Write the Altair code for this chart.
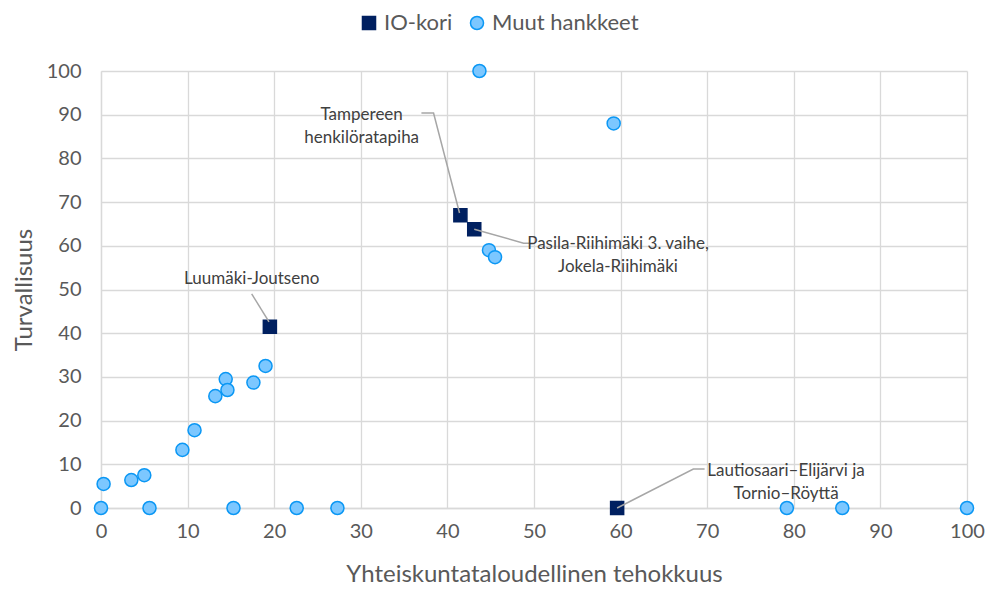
import altair as alt
import pandas as pd

FONT = "Lato"

series_names = ["IO-kori", "Muut hankkeet"]

io_x = [19.5, 41.5, 43.1, 59.6]
io_y = [41.5, 67.0, 63.8, 0.0]

muut_x = [0.0, 0.3, 3.5, 5.0, 5.6, 9.4, 10.8, 13.2, 14.4, 14.6, 15.3, 17.6, 19.0,
          22.6, 27.3, 43.7, 44.8, 45.5, 59.2, 79.2, 85.6, 100.0]
muut_y = [0.0, 5.5, 6.4, 7.5, 0.0, 13.3, 17.8, 25.6, 29.5, 27.0, 0.0, 28.7, 32.5,
          0.0, 0.0, 100.0, 59.0, 57.4, 88.0, 0.0, 0.0, 0.0]

label_texts = ["Tampereen\nhenkilöratapiha", "Pasila-Riihimäki 3. vaihe,\nJokela-Riihimäki",
               "Luumäki-Joutseno", "Lautiosaari–Elijärvi ja\nTornio–Röyttä"]
label_x = [30.1, 59.7, 17.4, 79.1]
label_y = [90.0, 60.4, 52.4, 8.5]

leader_label = ["T", "T", "T", "P", "P", "P", "L", "L", "A", "A", "A"]
leader_order = [0, 1, 2, 0, 1, 2, 0, 1, 0, 1, 2]
leader_x = [37.0, 38.4, 41.4, 43.1, 48.8, 49.9, 17.4, 19.4, 59.6, 68.4, 69.7]
leader_y = [90.4, 90.4, 67.5, 63.8, 60.6, 60.6, 49.0, 42.6, 0.0, 8.9, 8.9]

points = pd.DataFrame({
    "x": muut_x + io_x,
    "y": muut_y + io_y,
    "series": [series_names[1]] * len(muut_x) + [series_names[0]] * len(io_x),
})
labels = pd.DataFrame({"x": label_x, "y": label_y, "text": label_texts})
leaders = pd.DataFrame({"label": leader_label, "order": leader_order, "x": leader_x, "y": leader_y})

xenc = alt.X("x:Q", scale=alt.Scale(domain=[0, 100], nice=False),
             axis=alt.Axis(values=list(range(0, 101, 10)), title="Yhteiskuntataloudellinen tehokkuus",
                           labelPadding=13, titlePadding=21, labelFlush=False))
yenc = alt.Y("y:Q", scale=alt.Scale(domain=[0, 100], nice=False),
             axis=alt.Axis(values=list(range(0, 101, 10)), title="Turvallisuus",
                           labelPadding=20, titlePadding=10, labelFlush=False))

leg = alt.Legend(title=None, orient="none", legendX=257, legendY=-59, direction="horizontal",
                 labelFontSize=22, labelColor="#595959", labelFont=FONT, symbolSize=170,
                 columnPadding=13, symbolStrokeWidth=1.5, labelOffset=4)

pts = alt.Chart(points).mark_point(filled=True, size=170, opacity=1, strokeWidth=1.5).encode(
    x=xenc, y=yenc,
    shape=alt.Shape("series:N", scale=alt.Scale(domain=series_names, range=["square", "circle"]), legend=leg),
    fill=alt.Fill("series:N", scale=alt.Scale(domain=series_names, range=["#002060", "#7cc7ff"]), legend=leg),
    stroke=alt.Stroke("series:N", scale=alt.Scale(domain=series_names, range=["#002060", "#0b97f4"]), legend=leg),
)

lines = alt.Chart(leaders).mark_line(color="#a6a6a6", strokeWidth=1.5).encode(
    x=xenc, y=yenc, detail="label:N", order="order:Q"
)

texts = alt.Chart(labels).mark_text(font=FONT, fontSize=17, color="#404040", lineBreak="\n",
                                    lineHeight=23, align="center", baseline="middle").encode(
    x=xenc, y=yenc, text="text:N"
)

chart = alt.layer(pts, lines, texts).properties(
    width=866, height=437,
    autosize=alt.AutoSizeParams(type="none"),
    padding={"left": 93, "top": 63, "right": 18, "bottom": 78},
).configure_view(stroke=None).configure_axis(
    gridColor="#d9d9d9", gridWidth=1.3, domainColor="#d9d9d9", domainWidth=1.3, ticks=False,
    labelFont=FONT, labelFontSize=20, labelColor="#595959",
    titleFont=FONT, titleFontSize=24, titleColor="#595959", titleFontWeight="normal",
)

chart.save("out.html", embed_options={"renderer": "svg", "actions": False})
